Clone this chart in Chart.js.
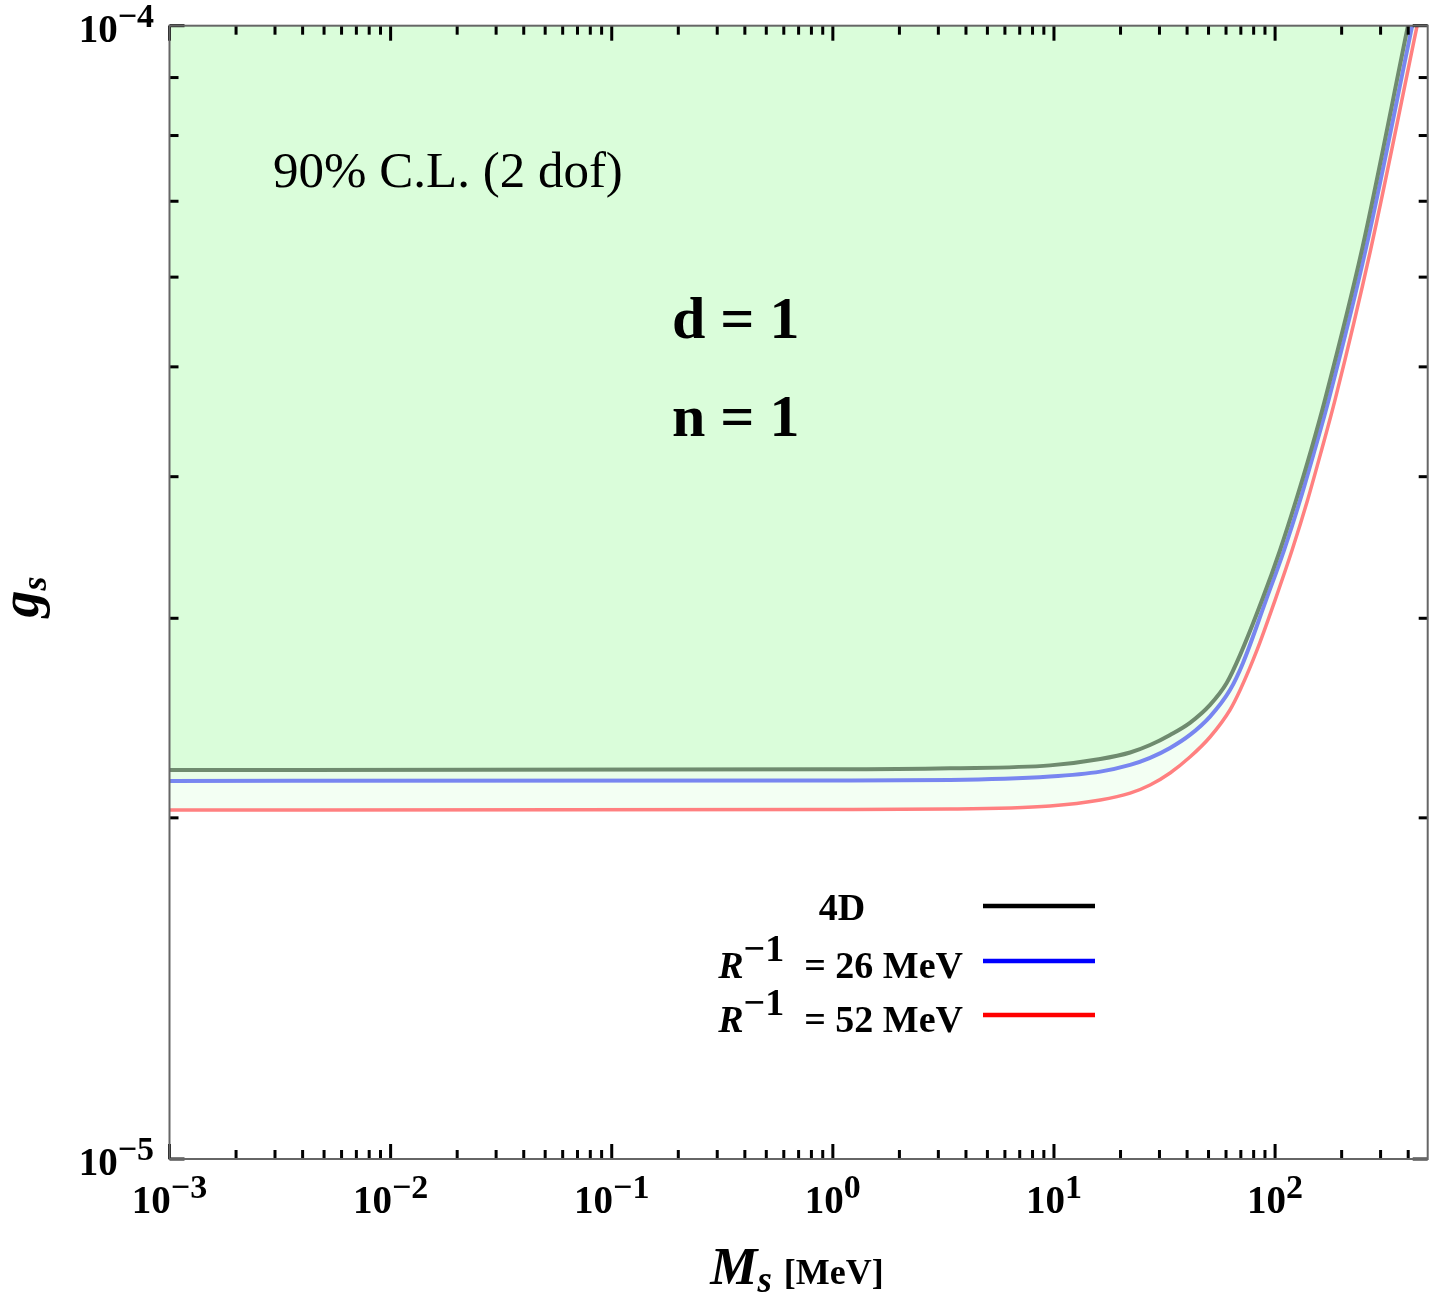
<!DOCTYPE html>
<html><head><meta charset="utf-8">
<script src="https://cdn.jsdelivr.net/npm/chart.js@4.4.0/dist/chart.umd.min.js"></script>
<style>html,body{margin:0;padding:0;background:#fff;}canvas{display:block;}</style>
</head><body>
<canvas id="c" width="1440" height="1295"></canvas>
<script>
// ---- data ----
const xMin = 0.001, xMax = 490, yMin = 1e-5, yMax = 1e-4;
const xTickExps = [-3, -2, -1, 0, 1, 2];
const yTickExps = [-5, -4];
const minorMultipliers = [2, 3, 4, 5, 6, 7, 8, 9];

const blackX = [0.001, 1, 3.39, 9.6, 16.2, 22.1, 27.2, 33.5, 41.2, 50.8, 60.4, 69.5, 87.3, 105.3, 124.5, 145.5, 168, 247, 399];
const blackY = [2.204e-5, 2.207e-5, 2.212e-5, 2.225e-5, 2.254e-5, 2.284e-5, 2.319e-5, 2.367e-5, 2.426e-5, 2.516e-5, 2.630e-5, 2.785e-5, 3.113e-5, 3.446e-5, 3.815e-5, 4.223e-5, 4.675e-5, 6.341e-5, 1e-4];

const blueX = [0.001, 1, 3.39, 9.6, 16.2, 22.1, 27.2, 33.5, 41.2, 50.8, 62.5, 71.6, 91.0, 109.8, 129.8, 151, 174.6, 256.6, 417];
const blueY = [2.156e-5, 2.158e-5, 2.160e-5, 2.175e-5, 2.197e-5, 2.227e-5, 2.259e-5, 2.305e-5, 2.367e-5, 2.457e-5, 2.593e-5, 2.740e-5, 3.113e-5, 3.446e-5, 3.815e-5, 4.223e-5, 4.675e-5, 6.341e-5, 1e-4];

const redX = [0.001, 1, 3.39, 9.6, 16.2, 22.1, 27.2, 33.5, 41.2, 50.8, 62.5, 69.5, 82.9, 100, 119.4, 140.3, 162.3, 186.7, 270.4, 439];
const redY = [2.032e-5, 2.034e-5, 2.036e-5, 2.049e-5, 2.074e-5, 2.103e-5, 2.138e-5, 2.191e-5, 2.263e-5, 2.357e-5, 2.490e-5, 2.593e-5, 2.813e-5, 3.113e-5, 3.446e-5, 3.815e-5, 4.223e-5, 4.675e-5, 6.341e-5, 1e-4];

const seriesLabels = ['4D', '26', '52'];
const legendColors = ['#000000', '#0000ff', '#ff0000'];

const zip = (xs, ys) => xs.map((v, i) => ({x: v, y: ys[i]}));
const SERIF = '"Liberation Serif", "Times New Roman", serif';

function drawRich(ctx, parts, x, y, align) {
  let total = 0;
  parts.forEach(p => { ctx.font = p.f; p.w = ctx.measureText(p.t).width; total += p.w + (p.gap || 0); });
  let cx = align === 'center' ? x - total / 2 : align === 'right' ? x - total : x;
  ctx.textAlign = 'left';
  ctx.textBaseline = 'alphabetic';
  parts.forEach(p => { cx += (p.gap || 0); ctx.font = p.f; ctx.fillText(p.t, cx, y + (p.dy || 0)); cx += p.w; });
}

const deco = {
  id: 'deco',
  afterDraw(chart) {
    const {ctx, chartArea: a, scales: {x, y}} = chart;
    ctx.save();
    ctx.fillStyle = '#000';
    // x ticks (bottom & top, inward)
    xTickExps.forEach(e => {
      const vals = [{v: Math.pow(10, e), L: 15}].concat(minorMultipliers.map(m => ({v: m * Math.pow(10, e), L: 9})));
      vals.forEach(o => {
        if (o.v < xMin * 0.999 || o.v > xMax) return;
        const px = x.getPixelForValue(o.v);
        ctx.fillRect(px - 1.5, a.bottom - o.L, 3, o.L);
        ctx.fillRect(px - 1.5, a.top, 3, o.L);
      });
    });
    // y ticks (left & right, inward)
    yTickExps.forEach(e => {
      const vals = [{v: Math.pow(10, e), L: 15}].concat(e < -4 ? minorMultipliers.map(m => ({v: m * Math.pow(10, e), L: 9})) : []);
      vals.forEach(o => {
        const py = y.getPixelForValue(o.v);
        ctx.fillRect(a.left, py - 1.5, o.L, 3);
        ctx.fillRect(a.right - o.L, py - 1.5, o.L, 3);
      });
    });
    // frame
    ctx.strokeStyle = '#666';
    ctx.lineWidth = 2;
    ctx.strokeRect(a.left, a.top, a.right - a.left, a.bottom - a.top);

    // tick labels
    ctx.fillStyle = '#000';
    const bf = 'bold 39px ' + SERIF, sf = 'bold 34px ' + SERIF;
    xTickExps.forEach(e => {
      const px = x.getPixelForValue(Math.pow(10, e));
      const ex = e < 0 ? '\u2212' + Math.abs(e) : String(e);
      drawRich(ctx, [{t: '10', f: bf}, {t: ex, f: sf, dy: -15}], px, a.bottom + 54, 'center');
    });
    yTickExps.forEach(e => {
      const py = y.getPixelForValue(Math.pow(10, e));
      drawRich(ctx, [{t: '10', f: bf}, {t: '\u2212' + Math.abs(e), f: sf, dy: -15}], 154, py + 16, 'right');
    });

    // axis titles
    drawRich(ctx, [
      {t: 'M', f: 'italic bold 53px ' + SERIF},
      {t: 's', f: 'italic bold 37px ' + SERIF, dy: 8},
      {t: '[MeV]', f: 'bold 36px ' + SERIF, gap: 12}
    ], 797, 1284, 'center');
    ctx.save();
    ctx.translate(38, 597);
    ctx.rotate(-Math.PI / 2);
    drawRich(ctx, [
      {t: 'g', f: 'italic bold 54px ' + SERIF},
      {t: 's', f: 'italic bold 36px ' + SERIF, dy: 8}
    ], 0, 0, 'center');
    ctx.restore();

    // annotations
    ctx.font = '51px ' + SERIF;
    ctx.textAlign = 'left';
    ctx.fillText('90% C.L. (2 dof)', 273, 187);
    ctx.font = 'bold 60px ' + SERIF;
    ctx.fillText('d = 1', 672, 338);
    ctx.fillText('n = 1', 672, 436);

    // legend
    const lf = 'bold 38px ' + SERIF, lfi = 'italic bold 38px ' + SERIF;
    const rows = [920, 978, 1032];
    const lineYs = [906, 961, 1015];
    drawRich(ctx, [{t: seriesLabels[0], f: lf}], 842, rows[0], 'center');
    for (let i = 1; i < 3; i++) {
      drawRich(ctx, [
        {t: 'R', f: lfi},
        {t: '\u22121', f: lf, dy: -17},
        {t: '= ' + seriesLabels[i] + ' MeV', f: lf, gap: 20}
      ], 963, rows[i], 'right');
    }
    ctx.lineWidth = 4.5;
    for (let i = 0; i < 3; i++) {
      ctx.strokeStyle = legendColors[i];
      ctx.beginPath();
      ctx.moveTo(983, lineYs[i]);
      ctx.lineTo(1095, lineYs[i]);
      ctx.stroke();
    }
    ctx.restore();
  }
};

new Chart(document.getElementById('c'), {
  type: 'line',
  data: {
    datasets: [
      {label: '4D', data: zip(blackX, blackY), borderColor: '#6f8b6f', backgroundColor: '#dafdda', fill: 'end', borderWidth: 4, pointRadius: 0, cubicInterpolationMode: 'monotone'},
      {label: 'R^-1 = 26 MeV', data: zip(blueX, blueY), borderColor: '#7886f0', backgroundColor: '#e9fee9', fill: 'end', borderWidth: 4, pointRadius: 0, cubicInterpolationMode: 'monotone'},
      {label: 'R^-1 = 52 MeV', data: zip(redX, redY), borderColor: '#ff8080', backgroundColor: '#f3fff3', fill: 'end', borderWidth: 3.5, pointRadius: 0, cubicInterpolationMode: 'monotone'}
    ]
  },
  options: {
    responsive: false,
    animation: false,
    layout: {padding: {left: 169.5, right: 12.3, top: 25.7, bottom: 136}},
    scales: {
      x: {type: 'logarithmic', min: xMin, max: xMax, display: false},
      y: {type: 'logarithmic', min: yMin, max: yMax, display: false}
    },
    plugins: {legend: {display: false}, tooltip: {enabled: false}}
  },
  plugins: [deco]
});
</script>
</body></html>
